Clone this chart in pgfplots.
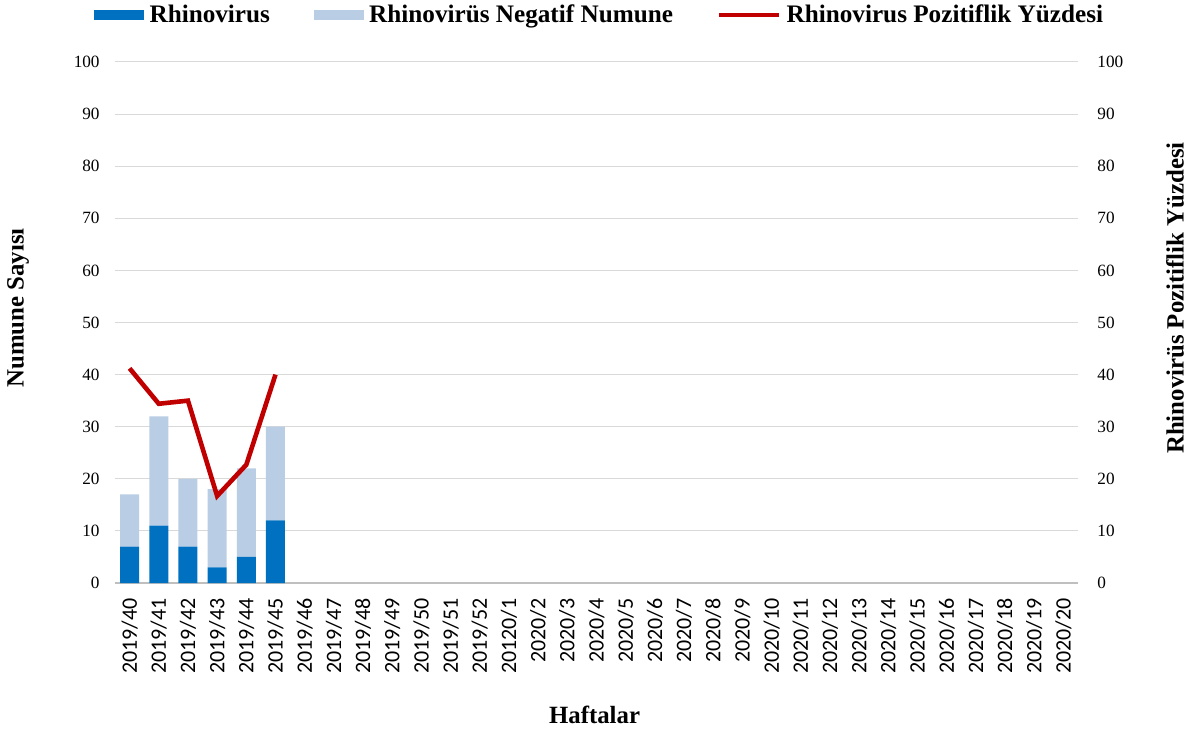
\documentclass[border=0pt]{standalone}
\usepackage{pgfplots}
\pgfplotsset{compat=1.18}
\usepackage{fontspec}
\setmainfont{Liberation Serif}
\newfontfamily\carlito{Carlito}

\definecolor{rvpos}{RGB}{0,112,192}
\definecolor{rvneg}{RGB}{185,205,229}
\definecolor{rvline}{RGB}{192,0,0}
\definecolor{gridgray}{RGB}{217,217,217}

% haftalar: x = 0 ... 32
\pgfplotstableread{
x pos neg pct
0 7  10 41.2
1 11 21 34.4
2 7  13 35.0
3 3  15 16.7
4 5  17 22.7
5 12 18 40.0
}\rvdata

\begin{document}
\begin{tikzpicture}
\useasboundingbox (-57.5pt,-75pt) rectangle (539pt,291.5pt);
\pgfplotsset{
    every axis/.append style={
        scale only axis,
        width=481.5pt, height=260.5pt,
        xmin=-0.5, xmax=32.5,
        ymin=0, ymax=100,
        ytick={0,10,...,100},
        major tick length=0pt,
        /pgf/number format/assume math mode=true,
        yticklabel style={font=\fontsize{8.6}{10}\selectfont, inner sep=0pt},
        label style={font=\bfseries\fontsize{12.4}{14}\selectfont},
    },
}
\begin{axis}[
    ybar stacked,
    bar width=9.5pt,
    axis x line*=bottom,
    axis y line*=left,
    y axis line style={draw=none},
    x axis line style={draw=gray!50, line width=0.6pt},
    ymajorgrids=true,
    grid style={gridgray, line width=0.5pt},
    xtick={0,...,32},
    xticklabels={2019/40,2019/41,2019/42,2019/43,2019/44,2019/45,2019/46,2019/47,2019/48,2019/49,2019/50,2019/51,2019/52,20120/1,2020/2,2020/3,2020/4,2020/5,2020/6,2020/7,2020/8,2020/9,2020/10,2020/11,2020/12,2020/13,2020/14,2020/15,2020/16,2020/17,2020/18,2020/19,2020/20},
    xticklabel style={rotate=90, anchor=east, inner sep=0pt, font=\carlito\fontsize{11}{12}\selectfont},
    xticklabel shift=7.5pt,
    yticklabel shift=7.5pt,
    xlabel={Haftalar},
    xlabel style={at={(axis description cs:0.498,-0.253)}, anchor=center},
    ylabel={Numune Sayısı},
    ylabel style={at={(axis description cs:-0.1007,0.528)}, anchor=center, rotate=0},
    legend columns=3,
    legend style={
        draw=none, fill=none,
        at={(axis description cs:0.505,1.09)}, anchor=center,
        font=\bfseries\fontsize{12.6}{14}\selectfont,
        /tikz/every even column/.append style={column sep=19pt},
        nodes={inner sep=2.8pt},
    },
]
\addplot[fill=rvpos, draw=none,
    legend image code/.code={\fill[rvpos] (0pt,-2.5pt) rectangle (25pt,2.5pt);}]
    table[x=x, y=pos] {\rvdata};
\addlegendentry{Rhinovirus}
\addplot[fill=rvneg, draw=none,
    legend image code/.code={\fill[rvneg] (0pt,-2.5pt) rectangle (25pt,2.5pt);}]
    table[x=x, y=neg] {\rvdata};
\addlegendentry{Rhinovirüs Negatif Numune}
\addlegendimage{legend image code/.code={\draw[rvline, line width=2.2pt] (0pt,0pt) -- (30pt,0pt);}}
\addlegendentry{Rhinovirus Pozitiflik Yüzdesi}
\end{axis}

\begin{axis}[
    axis x line=none,
    axis y line*=right,
    y axis line style={draw=none},
    yticklabel shift=9.5pt,
    ylabel={Rhinovirüs Pozitiflik Yüzdesi},
    ylabel style={at={(axis description cs:1.1007,0.547)}, anchor=center},
]
\addplot[rvline, line width=2.3pt, mark=none]
    table[x=x, y=pct] {\rvdata};
\end{axis}
\end{tikzpicture}
\end{document}
